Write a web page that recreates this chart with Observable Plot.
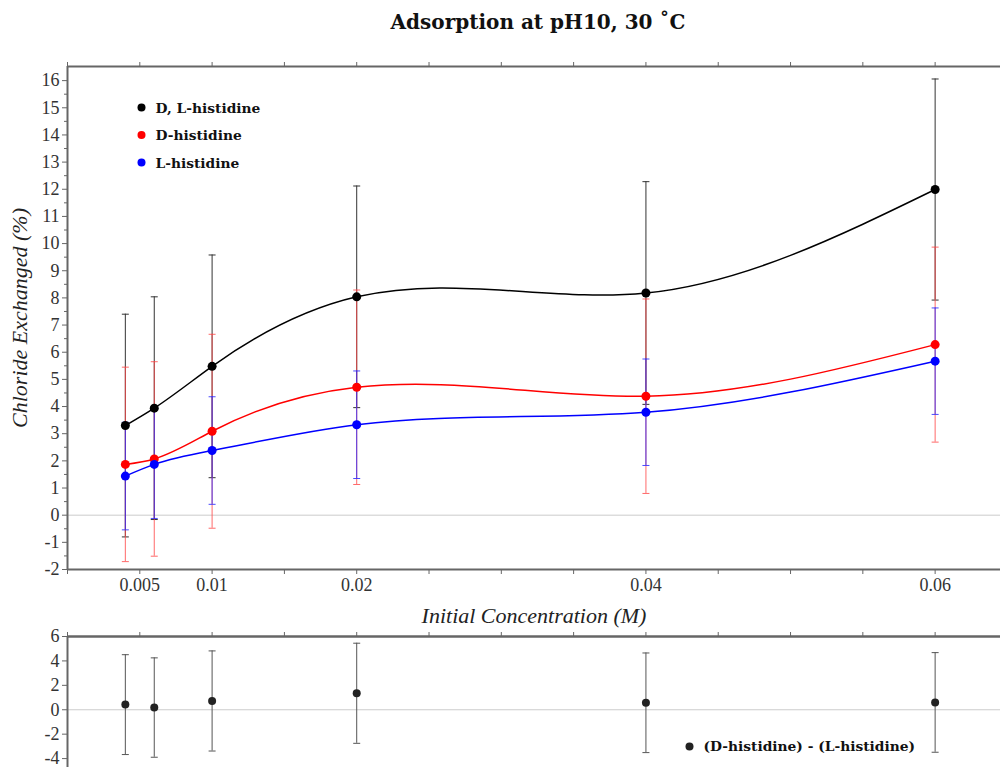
<!DOCTYPE html>
<html>
<head>
<meta charset="utf-8">
<script src="https://cdn.jsdelivr.net/npm/d3@7"></script>
<script src="https://cdn.jsdelivr.net/npm/@observablehq/plot@0.6"></script>
<style>
  html, body { margin: 0; padding: 0; background: #fff; }
  #wrap { position: relative; width: 1000px; height: 767px; overflow: hidden; }
  #title { position: absolute; left: 67px; width: 942px; top: 10px; text-align: center; line-height: 24px;
           font-family: "DejaVu Serif", serif; font-weight: bold; font-size: 20px; color: #111; }
  #main { position: absolute; left: 0; top: 44px; }
  #sub { position: absolute; left: 0; top: 628px; }
  svg { display: block; overflow: visible; }
</style>
</head>
<body>
<div id="wrap">
  <div id="title">Adsorption at pH10, 30 ˚C</div>
  <div id="main"></div>
  <div id="sub"></div>
</div>
<script>
// ---- data ----
const conc = [0.004, 0.006, 0.01, 0.02, 0.04, 0.06];
const dlValues = [3.30, 3.94, 5.48, 8.04, 8.18, 11.99];
const dlErrors = [4.10, 4.10, 4.10, 4.08, 4.10, 4.07];
const dValues = [1.87, 2.07, 3.09, 4.71, 4.38, 6.28];
const dErrors = [3.58, 3.58, 3.57, 3.58, 3.58, 3.59];
const lValues = [1.44, 1.87, 2.38, 3.33, 3.79, 5.67];
const lErrors = [1.98, 1.99, 1.98, 1.98, 1.96, 1.96];
const diffValues = [0.42, 0.18, 0.72, 1.35, 0.57, 0.60];
const diffErrors = [4.09, 4.07, 4.10, 4.10, 4.08, 4.08];
const seriesNames = ["D, L-histidine", "D-histidine", "L-histidine"];
const diffName = "(D-histidine) - (L-histidine)";
const xTickLabels = [0.005, 0.01, 0.02, 0.04, 0.06];
const xMinorTicks = [0, 0.005, 0.01, 0.015, 0.02, 0.025, 0.03, 0.035, 0.04, 0.045, 0.05, 0.055, 0.06];
const yTicks = d3.range(-2, 17);
const yMinor = d3.range(-1.5, 16.5, 1);
const subYTicks = [-4, -2, 0, 2, 4, 6];

// ---- styles ----
const colors = ["#000000", "#ff0000", "#0000ff"];
const errColors = ["#333333", "#ff4444", "#2a2aff"];
const errOpacity = [1, 0.8, 0.85];
const valueArrays = [dlValues, dValues, lValues];
const errorArrays = [dlErrors, dErrors, lErrors];

const rows = seriesNames.flatMap((name, i) =>
  conc.map((c, j) => ({series: name, idx: i, x: c, y: valueArrays[i][j],
    lo: valueArrays[i][j] - errorArrays[i][j], hi: valueArrays[i][j] + errorArrays[i][j]})));
const diffRows = conc.map((c, j) => ({x: c, y: diffValues[j],
  lo: diffValues[j] - diffErrors[j], hi: diffValues[j] + diffErrors[j]}));

// error-bar cap symbol (short horizontal stroke)
const cap = { draw(ctx, size) { const w = Math.sqrt(size / Math.PI); ctx.moveTo(-w, 0); ctx.lineTo(w, 0); } };

// natural cubic spline y(x) (non-parametric), drawn as Bézier segments
function splineCurve(context) {
  let xs, ys;
  return {
    areaStart() {}, areaEnd() {},
    lineStart() { xs = []; ys = []; },
    point(x, y) { xs.push(+x); ys.push(+y); },
    lineEnd() {
      const n = xs.length;
      if (!n) return;
      context.moveTo(xs[0], ys[0]);
      if (n === 1) return;
      if (n === 2) { context.lineTo(xs[1], ys[1]); return; }
      const h = [], M = new Array(n).fill(0), a = [], b = [], c = [], d = [];
      for (let i = 0; i < n - 1; i++) h[i] = xs[i + 1] - xs[i];
      for (let i = 1; i < n - 1; i++) {
        a[i] = h[i - 1]; b[i] = 2 * (h[i - 1] + h[i]); c[i] = h[i];
        d[i] = 6 * ((ys[i + 1] - ys[i]) / h[i] - (ys[i] - ys[i - 1]) / h[i - 1]);
      }
      for (let i = 2; i < n - 1; i++) { const w = a[i] / b[i - 1]; b[i] -= w * c[i - 1]; d[i] -= w * d[i - 1]; }
      M[n - 2] = d[n - 2] / b[n - 2];
      for (let i = n - 3; i >= 1; i--) M[i] = (d[i] - c[i] * M[i + 1]) / b[i];
      for (let i = 0; i < n - 1; i++) {
        const hi = h[i], s = (ys[i + 1] - ys[i]) / hi;
        const d0 = s - hi * (2 * M[i] + M[i + 1]) / 6;
        const d1 = s + hi * (M[i] + 2 * M[i + 1]) / 6;
        context.bezierCurveTo(xs[i] + hi / 3, ys[i] + d0 * hi / 3, xs[i + 1] - hi / 3, ys[i + 1] - d1 * hi / 3, xs[i + 1], ys[i + 1]);
      }
    }
  };
}

const xDomain = [0, 0.06452];
const yDomain = [-2, 16.52];
const font = "'Liberation Serif', 'Times New Roman', serif";
const legendFont = "'DejaVu Serif', serif";
const axisColor = "#666";
const tickFont = 18;

function errorMarks(data, stroke, opacity) {
  return [
    Plot.ruleX(data, {x: "x", y1: "lo", y2: "hi", stroke, strokeWidth: 1, strokeOpacity: opacity}),
    Plot.dot(data, {x: "x", y: "hi", symbol: cap, r: 3.5, fill: "none", stroke, strokeWidth: 1, strokeOpacity: opacity}),
    Plot.dot(data, {x: "x", y: "lo", symbol: cap, r: 3.5, fill: "none", stroke, strokeWidth: 1, strokeOpacity: opacity})
  ];
}

const mainMarks = [
  Plot.ruleY([0], {stroke: "#cccccc", strokeWidth: 1}),
  ...seriesNames.flatMap((n, i) => errorMarks(rows.filter(r => r.idx === i), errColors[i], errOpacity[i])),
  ...seriesNames.map((n, i) => Plot.line(rows.filter(r => r.idx === i), {x: "x", y: "y", stroke: colors[i], strokeWidth: 1.5, curve: splineCurve})),
  ...seriesNames.map((n, i) => Plot.dot(rows.filter(r => r.idx === i), {x: "x", y: "y", r: 4.5, fill: colors[i], stroke: "none"})),
  // axis lines
  Plot.ruleX([xDomain[0]], {stroke: axisColor, strokeWidth: 2}),
  Plot.ruleY([yDomain[1]], {stroke: axisColor, strokeWidth: 2}),
  Plot.ruleY([yDomain[0]], {stroke: axisColor, strokeWidth: 2}),
  Plot.axisY({ticks: yTicks, tickSize: 5, tickPadding: 3, tickFormat: d => String(d), fontSize: tickFont, label: null, stroke: axisColor}),
  Plot.axisY({ticks: yMinor, tickSize: 3, tickFormat: () => "", label: null, stroke: axisColor}),
  Plot.axisX({ticks: xMinorTicks, tickSize: 5, tickFormat: () => "", label: null, stroke: axisColor}),
  Plot.axisX({ticks: xMinorTicks, anchor: "top", tickSize: 5, tickFormat: () => "", label: null, stroke: axisColor}),
  Plot.axisX({ticks: xTickLabels, tickSize: 0, tickPadding: 9, tickFormat: d => String(d), fontSize: tickFont, label: null}),
  Plot.text(["Initial Concentration (M)"], {frameAnchor: "bottom", dy: 46, lineAnchor: "middle", fontSize: 22, fontStyle: "italic", fill: "#222"}),
  Plot.text(["Chloride Exchanged (%)"], {frameAnchor: "left", dx: -48, rotate: -90, textAnchor: "middle", lineAnchor: "middle", fontSize: 22, fontStyle: "italic", fill: "#222"}),
  // legend
  ...seriesNames.map((n, i) => Plot.dot([n], {frameAnchor: "top-left", dx: 74, dy: 41 + i * 27.5, r: 4, fill: colors[i]})),
  ...seriesNames.map((n, i) => Plot.text([n], {frameAnchor: "top-left", dx: 88, dy: 42 + i * 27.5, textAnchor: "start", lineAnchor: "middle",
    fontFamily: legendFont, fontWeight: "bold", fontSize: 13.8, fill: "#111"}))
];

const mainPlot = Plot.plot({
  width: 1000, height: 584,
  marginTop: 22, marginBottom: 59, marginLeft: 67, marginRight: 0,
  x: {domain: xDomain}, y: {domain: yDomain},
  style: {fontFamily: font, fontSize: "18px", color: "#333", background: "transparent"},
  marks: mainMarks
});
document.getElementById("main").append(mainPlot);

const subDomain = [-4.73, 6];
const subPlot = Plot.plot({
  width: 1000, height: 139,
  marginTop: 8, marginBottom: 0, marginLeft: 67, marginRight: 0,
  x: {domain: xDomain}, y: {domain: subDomain},
  style: {fontFamily: font, fontSize: "18px", color: "#333", background: "transparent"},
  marks: [
    Plot.ruleY([0], {stroke: "#cccccc", strokeWidth: 1}),
    ...errorMarks(diffRows, "#555555", 1),
    Plot.dot(diffRows, {x: "x", y: "y", r: 4, fill: "#222"}),
    Plot.ruleX([xDomain[0]], {stroke: axisColor, strokeWidth: 2}),
    Plot.ruleY([subDomain[1]], {stroke: axisColor, strokeWidth: 2.5}),
    Plot.axisY({ticks: subYTicks, tickSize: 5, tickPadding: 3, tickFormat: d => String(d), fontSize: tickFont, label: null, stroke: axisColor}),
    Plot.axisX({ticks: xMinorTicks, anchor: "top", tickSize: 5, tickFormat: () => "", label: null, stroke: axisColor}),
    Plot.dot([diffName], {frameAnchor: "top-left", dx: 622, dy: 110, r: 4, fill: "#222"}),
    Plot.text([diffName], {frameAnchor: "top-left", dx: 636, dy: 110, textAnchor: "start", lineAnchor: "middle",
      fontFamily: legendFont, fontWeight: "bold", fontSize: 13.8, fill: "#111"})
  ]
});
document.getElementById("sub").append(subPlot);
</script>
</body>
</html>
